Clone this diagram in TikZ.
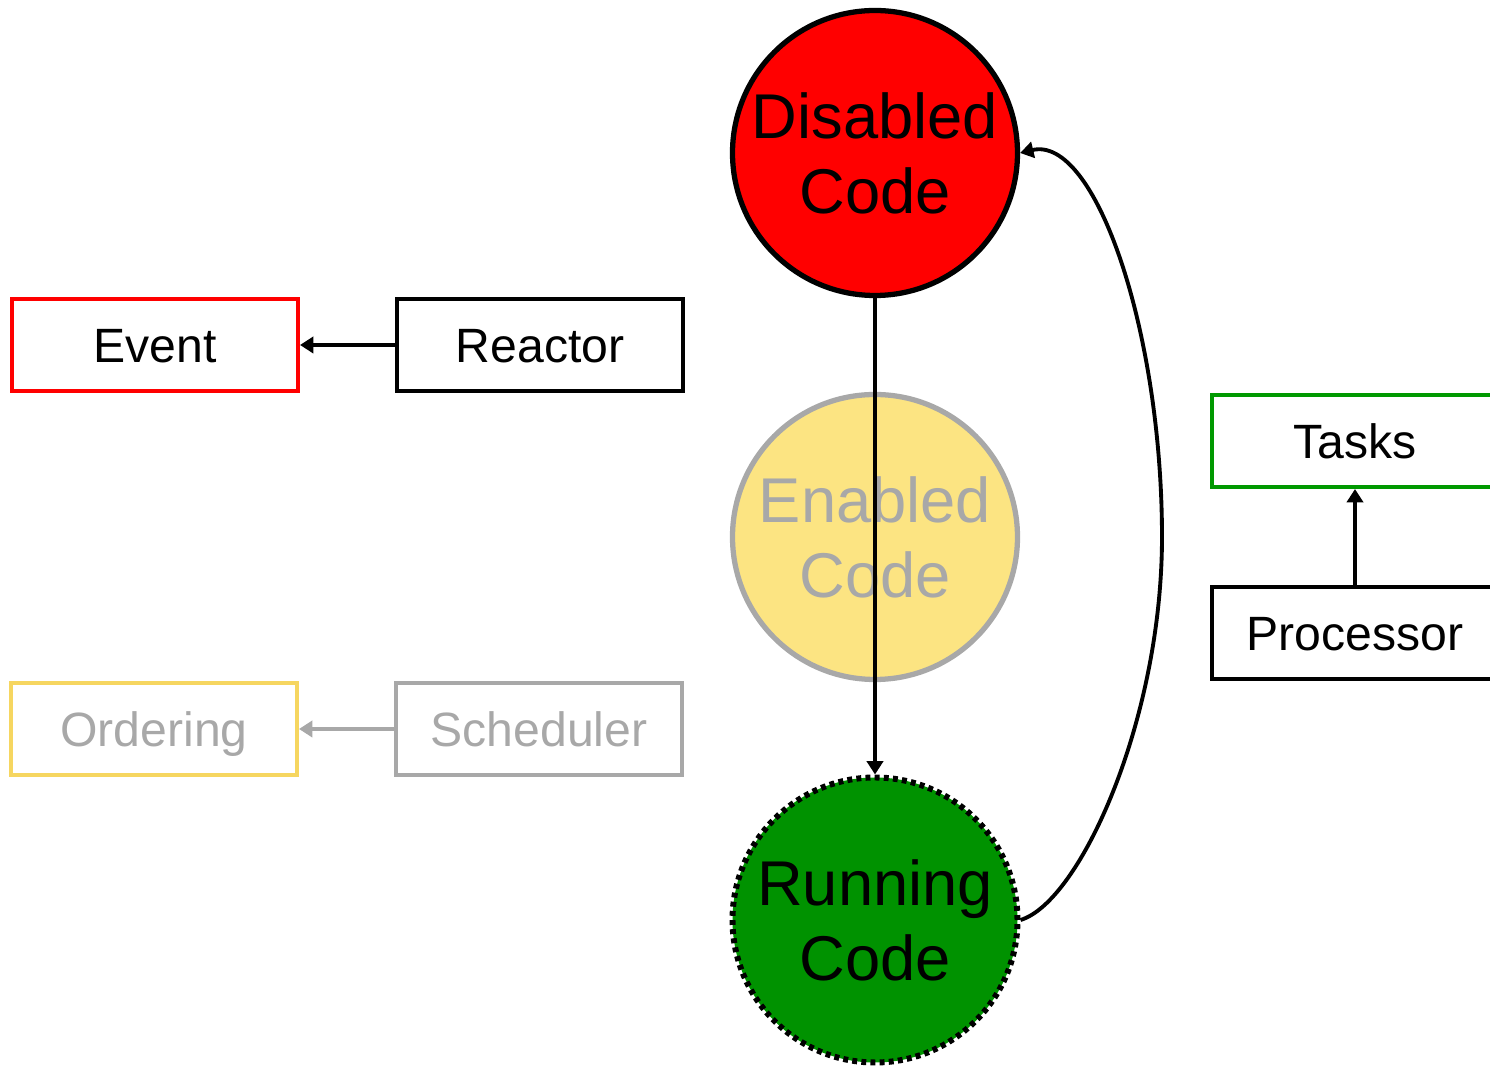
\documentclass[tikz,border=0pt]{standalone}
\usepackage{fontspec}
\setmainfont{Liberation Sans}
\usepackage{xcolor}
\usepackage{tikz}
\usetikzlibrary{positioning}
\usetikzlibrary{arrows.meta}

\definecolor{codered}{RGB}{255,0,0}
\definecolor{codegreen}{RGB}{0,146,0}
\definecolor{taskgreen}{RGB}{0,153,0}
\definecolor{fadeyellow}{RGB}{252,228,130}
\definecolor{fadegray}{RGB}{168,168,168}
\definecolor{fadeline}{RGB}{246,214,96}

\tikzset{
	state/.style={circle, draw=black, line width=1.5pt, minimum size=2.85cm, inner sep=0pt,
		align=center, font=\fontsize{18}{21.3}\selectfont},
	box/.style={rectangle, draw=black, line width=1.15pt, minimum width=2.86cm,
		minimum height=0.92cm, text height=9.8pt, text depth=0pt,
		font=\fontsize{13.7}{16}\selectfont},
	link/.style={-{Triangle[length=3.8pt,width=4.6pt]}, line width=1.1pt},
}

\begin{document}
\begin{tikzpicture}[x=0.1mm, y=-0.1mm]
		\useasboundingbox (0,0) rectangle (1490,1068);
		\clip (0,0) rectangle (1490,1068);

		% The three states of the code
		\node[state, fill=codered] (dis) at (875,153) {Disabled\\Code};
		\node[state, fill=fadeyellow, draw=fadegray, text=fadegray] (ena) at (875,537) {Enabled\\Code};
		\node[state, fill=codegreen, line width=1.7pt, dash pattern=on 1.4pt off 1.2pt] (run) at (875,920) {Running\\Code};

		% Left side boxes
		\node[box, draw=codered] (event) at (155,345) {Event};
		\node[box] (reactor) [right=0.95cm of event] {Reactor};
		\node[box, draw=fadeline, text=fadegray] (ordering) at (154,729) {Ordering};
		\node[box, draw=fadegray, text=fadegray] (scheduler) [right=0.95cm of ordering] {Scheduler};

		% Right side boxes (cut at the edge)
		\node[box, draw=taskgreen] (tasks) at (1355,441) {Tasks};
		\node[box] (processor) [below=0.96cm of tasks] {Processor};

		% Connectors
		\draw[link] (dis) -- (run);
		\draw[link] (reactor) -- (event);
		\draw[link, fadegray] (scheduler) -- (ordering);
		\draw[link] (processor) -- (tasks);

		\coordinate (bend) at (1162,537);
		\draw[link] (run.east) .. controls (1080,902) and (1162,720) .. (bend)
			.. controls (1162,330) and (1095,135) .. (dis.east);
	\end{tikzpicture}
\end{document}
